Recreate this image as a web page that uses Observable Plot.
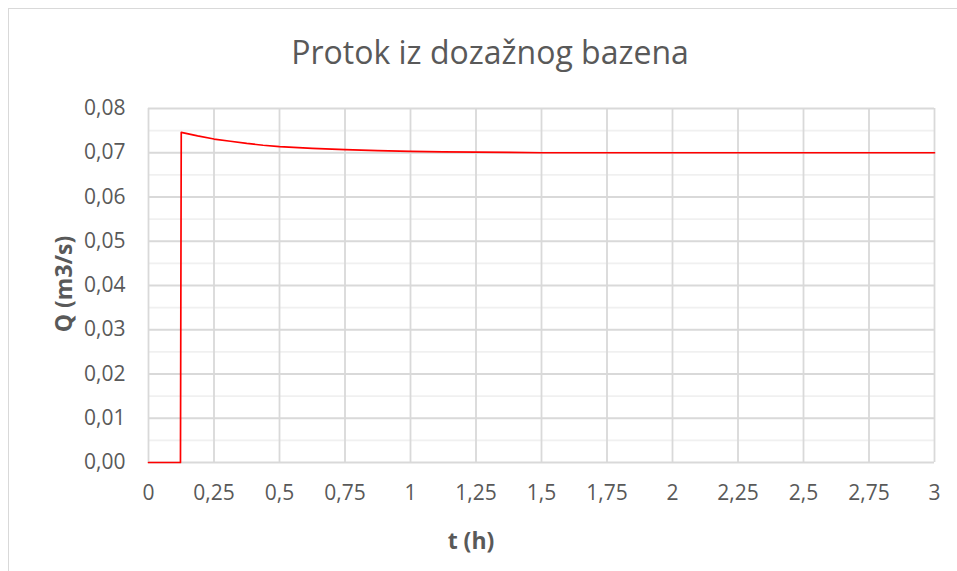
<!DOCTYPE html>
<html>
<head>
<meta charset="utf-8">
<script src="https://cdn.jsdelivr.net/npm/d3@7"></script>
<script src="https://cdn.jsdelivr.net/npm/@observablehq/plot@0.6"></script>
<style>
  html, body { margin: 0; padding: 0; background: #fff; }
  #wrap { position: relative; width: 957px; height: 571px; overflow: hidden; font-family: "Open Sans", "Noto Sans", sans-serif; color: #595959; }
  #border { position: absolute; left: 8px; top: 8px; width: 1000px; height: 1000px; border-left: 1.5px solid #d9d9d9; border-top: 1.5px solid #d9d9d9; }
  #chart { position: absolute; left: 0; top: 0; }
  .lbl { position: absolute; white-space: nowrap; line-height: 1; }
  #title { left: 490px; top: 35.5px; transform: translate(-50%, 0); font-size: 32px; }
  #xlabel { left: 471px; top: 529px; transform: translate(-50%, 0); font-size: 23px; font-weight: bold; }
  #ylabel { left: 63px; top: 284px; transform: translate(-50%, -50%) rotate(-90deg); font-size: 23px; font-weight: bold; }
</style>
</head>
<body>
<div id="wrap">
  <div id="border"></div>
  <div id="chart"></div>
  <div class="lbl" id="title">Protok iz dozažnog bazena</div>
  <div class="lbl" id="xlabel">t (h)</div>
  <div class="lbl" id="ylabel">Q (m3/s)</div>
</div>
<script>
const tValues = [0, 0.122, 0.125, 0.1875, 0.25, 0.3125, 0.375, 0.4375, 0.5, 0.625, 0.75, 0.875, 1.0, 1.125, 1.25, 1.375, 1.5, 2.0, 2.5, 3.0];
const qValues = [0, 0, 0.0746, 0.0738, 0.0731, 0.0726, 0.0721, 0.0717, 0.0714, 0.0710, 0.0707, 0.0705, 0.0703, 0.0702, 0.07015, 0.07007, 0.0700, 0.0700, 0.0700, 0.0700];
const xTicks = [0, 0.25, 0.5, 0.75, 1, 1.25, 1.5, 1.75, 2, 2.25, 2.5, 2.75, 3];
const yTicks = [0, 0.01, 0.02, 0.03, 0.04, 0.05, 0.06, 0.07, 0.08];
const yMinorTicks = [0.005, 0.015, 0.025, 0.035, 0.045, 0.055, 0.065, 0.075];

const data = tValues.map((t, i) => ({t, q: qValues[i]}));
const comma = s => String(s).replace(".", ",");

const chart = Plot.plot({
  width: 957,
  height: 571,
  marginLeft: 148,
  marginRight: 23,
  marginTop: 108,
  marginBottom: 109,
  x: {domain: [0, 3]},
  y: {domain: [0, 0.08]},
  style: {fontFamily: "'Open Sans', 'Noto Sans', sans-serif", fontSize: "21px", color: "#595959", background: "transparent", overflow: "visible"},
  marks: [
    Plot.ruleY(yMinorTicks, {stroke: "#f0f0f0", strokeWidth: 1.8}),
    Plot.ruleY(yTicks, {stroke: "#d9d9d9", strokeWidth: 1.8}),
    Plot.ruleX(xTicks, {stroke: "#d9d9d9", strokeWidth: 1.8}),
    Plot.axisY({ticks: yTicks, tickSize: 0, tickPadding: 23, tickFormat: d => d3.format(".2f")(d).replace(".", ","), label: null}),
    Plot.axisX({ticks: xTicks, tickSize: 0, tickPadding: 23, tickFormat: d => comma(d), label: null}),
    Plot.line(data, {x: "t", y: "q", stroke: "#ff0000", strokeWidth: 1.7})
  ]
});
document.getElementById("chart").appendChild(chart);
</script>
</body>
</html>
